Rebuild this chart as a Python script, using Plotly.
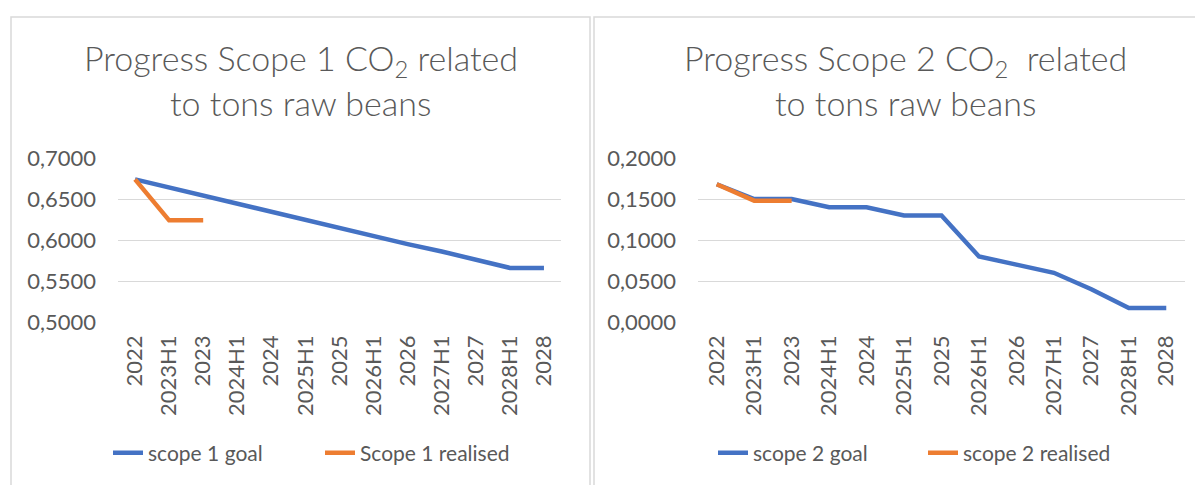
import plotly.graph_objects as go

categories = ["2022", "2023H1", "2023", "2024H1", "2024", "2025H1", "2025",
              "2026H1", "2026", "2027H1", "2027", "2028H1", "2028"]

scope1_goal = [0.674, 0.664, 0.655, 0.645, 0.635, 0.625, 0.615, 0.605,
               0.595, 0.586, 0.576, 0.566, 0.566]
scope1_realised = [0.674, 0.624, 0.624]

scope2_goal = [0.168, 0.150, 0.150, 0.140, 0.140, 0.130, 0.130, 0.080,
               0.070, 0.060, 0.040, 0.017, 0.017]
scope2_realised = [0.168, 0.148, 0.148]

W, H = 1203, 485
OFF = 8  # page body margin
BLUE = "#4472C4"
ORANGE = "#ED7D31"
GREY = "#595959"
GRID = "#D9D9D9"
FONT = "Lato"


def px_x(p):
    return (p - OFF) / W


def px_y(p):
    return 1 - (p - OFF) / H


fig = go.Figure()

fig.add_trace(go.Scatter(x=categories, y=scope1_goal, mode="lines", name="scope 1 goal",
                         line=dict(color=BLUE, width=4.5), xaxis="x", yaxis="y", legend="legend"))
fig.add_trace(go.Scatter(x=categories[:len(scope1_realised)], y=scope1_realised, mode="lines",
                         name="Scope 1 realised", line=dict(color=ORANGE, width=4.5),
                         xaxis="x", yaxis="y", legend="legend"))
fig.add_trace(go.Scatter(x=categories, y=scope2_goal, mode="lines", name="scope 2 goal",
                         line=dict(color=BLUE, width=4.5), xaxis="x2", yaxis="y2", legend="legend2"))
fig.add_trace(go.Scatter(x=categories[:len(scope2_realised)], y=scope2_realised, mode="lines",
                         name="scope 2 realised", line=dict(color=ORANGE, width=4.5),
                         xaxis="x2", yaxis="y2", legend="legend2"))

ydom = [px_y(322), px_y(158)]
tickfont = dict(family=FONT, size=22, color=GREY)

xcommon = dict(type="category", categoryorder="array", categoryarray=categories,
               range=[-0.5, len(categories) - 0.5], showgrid=False, showline=False,
               zeroline=False, tickangle=-90, tickfont=tickfont, ticks="", ticklen=0,
               ticklabelstandoff=8)
ycommon = dict(showgrid=True, gridcolor=GRID, gridwidth=1.3, zeroline=False, showline=False,
               tickformat=".4f", dtick=0.05, tickfont=tickfont, ticks="",
               ticklabelstandoff=21)

legfont = dict(family=FONT, size=21, color=GREY)

fig.update_layout(
    width=W, height=H,
    margin=dict(l=0, r=0, t=0, b=0, autoexpand=False),
    paper_bgcolor="white", plot_bgcolor="white",
    separators=",.",
    xaxis=dict(domain=[px_x(118), px_x(561)], anchor="y", **xcommon),
    yaxis=dict(domain=ydom, anchor="x", range=[0.5, 0.7], **ycommon),
    xaxis2=dict(domain=[px_x(698), px_x(1185)], anchor="y2", **xcommon),
    yaxis2=dict(domain=ydom, anchor="x2", range=[0.0, 0.2], **ycommon),
    legend=dict(orientation="h", x=px_x(108), y=px_y(453), yanchor="middle", xanchor="left",
                font=legfont, entrywidth=167, entrywidthmode="pixels",
                bgcolor="rgba(0,0,0,0)"),
    legend2=dict(orientation="h", x=px_x(713), y=px_y(453), yanchor="middle", xanchor="left",
                 font=legfont, entrywidth=165, entrywidthmode="pixels",
                 bgcolor="rgba(0,0,0,0)"),
    shapes=[
        dict(type="rect", xref="paper", yref="paper", x0=px_x(11), x1=px_x(590),
             y0=px_y(500), y1=px_y(17), line=dict(color=GRID, width=1.5), layer="below"),
        dict(type="rect", xref="paper", yref="paper", x0=px_x(594), x1=px_x(1220),
             y0=px_y(500), y1=px_y(17), line=dict(color=GRID, width=1.5), layer="below"),
    ],
    annotations=[
        dict(text="Progress Scope 1 CO<sub>2</sub> related", x=px_x(301), y=px_y(60),
             xref="paper", yref="paper", showarrow=False, xanchor="center", yanchor="middle",
             font=dict(family=FONT, size=34, color=GREY, weight=300)),
        dict(text="to tons raw beans", x=px_x(300), y=px_y(103),
             xref="paper", yref="paper", showarrow=False, xanchor="center", yanchor="middle",
             font=dict(family=FONT, size=34, color=GREY, weight=300)),
        dict(text="Progress Scope 2 CO<sub>2</sub>  related", x=px_x(905), y=px_y(60),
             xref="paper", yref="paper", showarrow=False, xanchor="center", yanchor="middle",
             font=dict(family=FONT, size=34, color=GREY, weight=300)),
        dict(text="to tons raw beans", x=px_x(905), y=px_y(103),
             xref="paper", yref="paper", showarrow=False, xanchor="center", yanchor="middle",
             font=dict(family=FONT, size=34, color=GREY, weight=300)),
    ],
)

fig.write_html("out.html")
